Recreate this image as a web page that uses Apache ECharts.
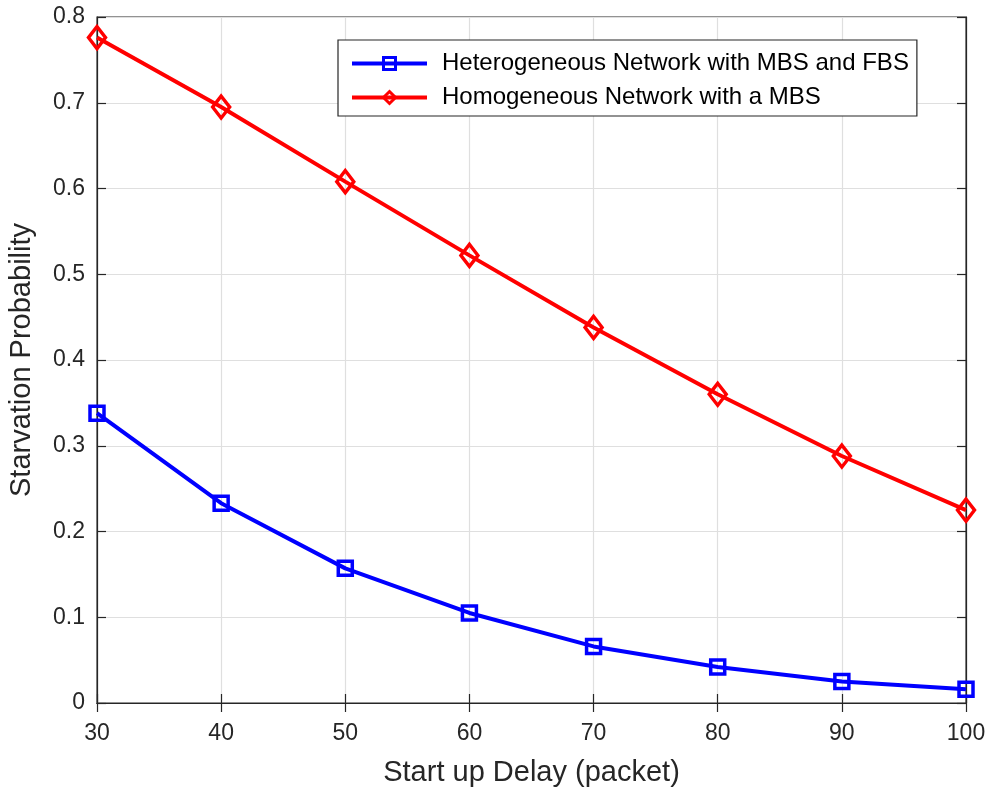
<!DOCTYPE html>
<html>
<head>
<meta charset="utf-8">
<script src="https://cdn.jsdelivr.net/npm/echarts@6/dist/echarts.min.js"></script>
<style>
html,body{margin:0;padding:0;background:#fff;}
#c{width:991px;height:789px;}
</style>
</head>
<body>
<div id="c"></div>
<script>
var delays = [30, 40, 50, 60, 70, 80, 90, 100];
var heteroName = 'Heterogeneous Network with MBS and FBS';
var homoName = 'Homogeneous Network with a MBS';
var heteroValues = [0.338, 0.233, 0.157, 0.105, 0.066, 0.042, 0.025, 0.016];
var homoValues = [0.776, 0.695, 0.608, 0.522, 0.438, 0.360, 0.288, 0.225];
var xTitle = 'Start up Delay (packet)';
var yTitle = 'Starvation Probability';

function pairs(xs, ys){ return xs.map(function(x,i){ return [x, ys[i]]; }); }

var font = 'Liberation Sans, Arial, Helvetica, sans-serif';
var axisColor = '#262626';
var chart = echarts.init(document.getElementById('c'));
chart.setOption({
  animation: false,
  backgroundColor: '#ffffff',
  textStyle: { fontFamily: font },
  grid: { left: 97, right: 25, top: 17, bottom: 86, show: true, borderColor: axisColor, borderWidth: 1.2, backgroundColor: '#fff', containLabel: false, outerBoundsMode: 'none' },
  legend: {
    orient: 'vertical', left: 338, top: 40,
    backgroundColor: '#fff', borderColor: axisColor, borderWidth: 1.2,
    padding: [10, 8, 5, 12], itemGap: 7,
    itemWidth: 75, itemHeight: 15,
    lineStyle: { width: 4 },
    itemStyle: { borderWidth: 3 },
    textStyle: { fontFamily: font, fontSize: 24, color: '#000', padding: [0, 0, 0, 10], lineHeight: 27 },
    data: [heteroName, homoName]
  },
  xAxis: [{
    type: 'value', min: 30, max: 100, interval: 10, position: 'bottom',
    name: xTitle, nameLocation: 'middle', nameGap: 55,
    nameTextStyle: { fontFamily: font, fontSize: 29, color: '#262626' },
    axisLine: { show: true, lineStyle: { color: axisColor, width: 1.2 } },
    axisTick: { show: true, inside: true, length: 9, lineStyle: { color: axisColor, width: 1.2 } },
    axisLabel: { fontFamily: font, fontSize: 23, color: '#262626', margin: 19 },
    splitLine: { show: true, lineStyle: { color: '#dfdfdf', width: 1.2 } }
  }, {
    type: 'value', min: 30, max: 100, interval: 10, position: 'top',
    axisLine: { show: true, lineStyle: { color: axisColor, width: 1.2 } },
    axisTick: { show: true, inside: true, length: 9, lineStyle: { color: axisColor, width: 1.2 } },
    axisLabel: { show: false }, splitLine: { show: false }
  }],
  yAxis: [{
    type: 'value', min: 0, max: 0.8, interval: 0.1, position: 'left',
    name: yTitle, nameLocation: 'middle', nameGap: 61,
    nameTextStyle: { fontFamily: font, fontSize: 29, color: '#262626' },
    axisLine: { show: true, lineStyle: { color: axisColor, width: 1.2 } },
    axisTick: { show: true, inside: true, length: 9, lineStyle: { color: axisColor, width: 1.2 } },
    axisLabel: { fontFamily: font, fontSize: 23, color: '#262626', margin: 12,
      formatter: function(v){ return v === 0 ? '0' : v.toFixed(1); } },
    splitLine: { show: true, lineStyle: { color: '#dfdfdf', width: 1.2 } }
  }, {
    type: 'value', min: 0, max: 0.8, interval: 0.1, position: 'right',
    axisLine: { show: true, lineStyle: { color: axisColor, width: 1.2 } },
    axisTick: { show: true, inside: true, length: 9, lineStyle: { color: axisColor, width: 1.2 } },
    axisLabel: { show: false }, splitLine: { show: false }
  }],
  series: [{
    name: heteroName, type: 'line', xAxisIndex: 0, yAxisIndex: 0,
    data: pairs(delays, heteroValues),
    symbol: 'rect', symbolSize: 14, showAllSymbol: true,
    lineStyle: { color: '#0000ff', width: 4 },
    itemStyle: { color: 'rgba(255,255,255,0)', borderColor: '#0000ff', borderWidth: 3.5 },
    z: 3
  }, {
    name: homoName, type: 'line', xAxisIndex: 0, yAxisIndex: 0,
    data: pairs(delays, homoValues),
    symbol: 'diamond', symbolSize: [17, 22], showAllSymbol: true,
    lineStyle: { color: '#ff0000', width: 4 },
    itemStyle: { color: 'rgba(255,255,255,0)', borderColor: '#ff0000', borderWidth: 3.5 },
    z: 3
  }]
});
</script>
</body>
</html>
